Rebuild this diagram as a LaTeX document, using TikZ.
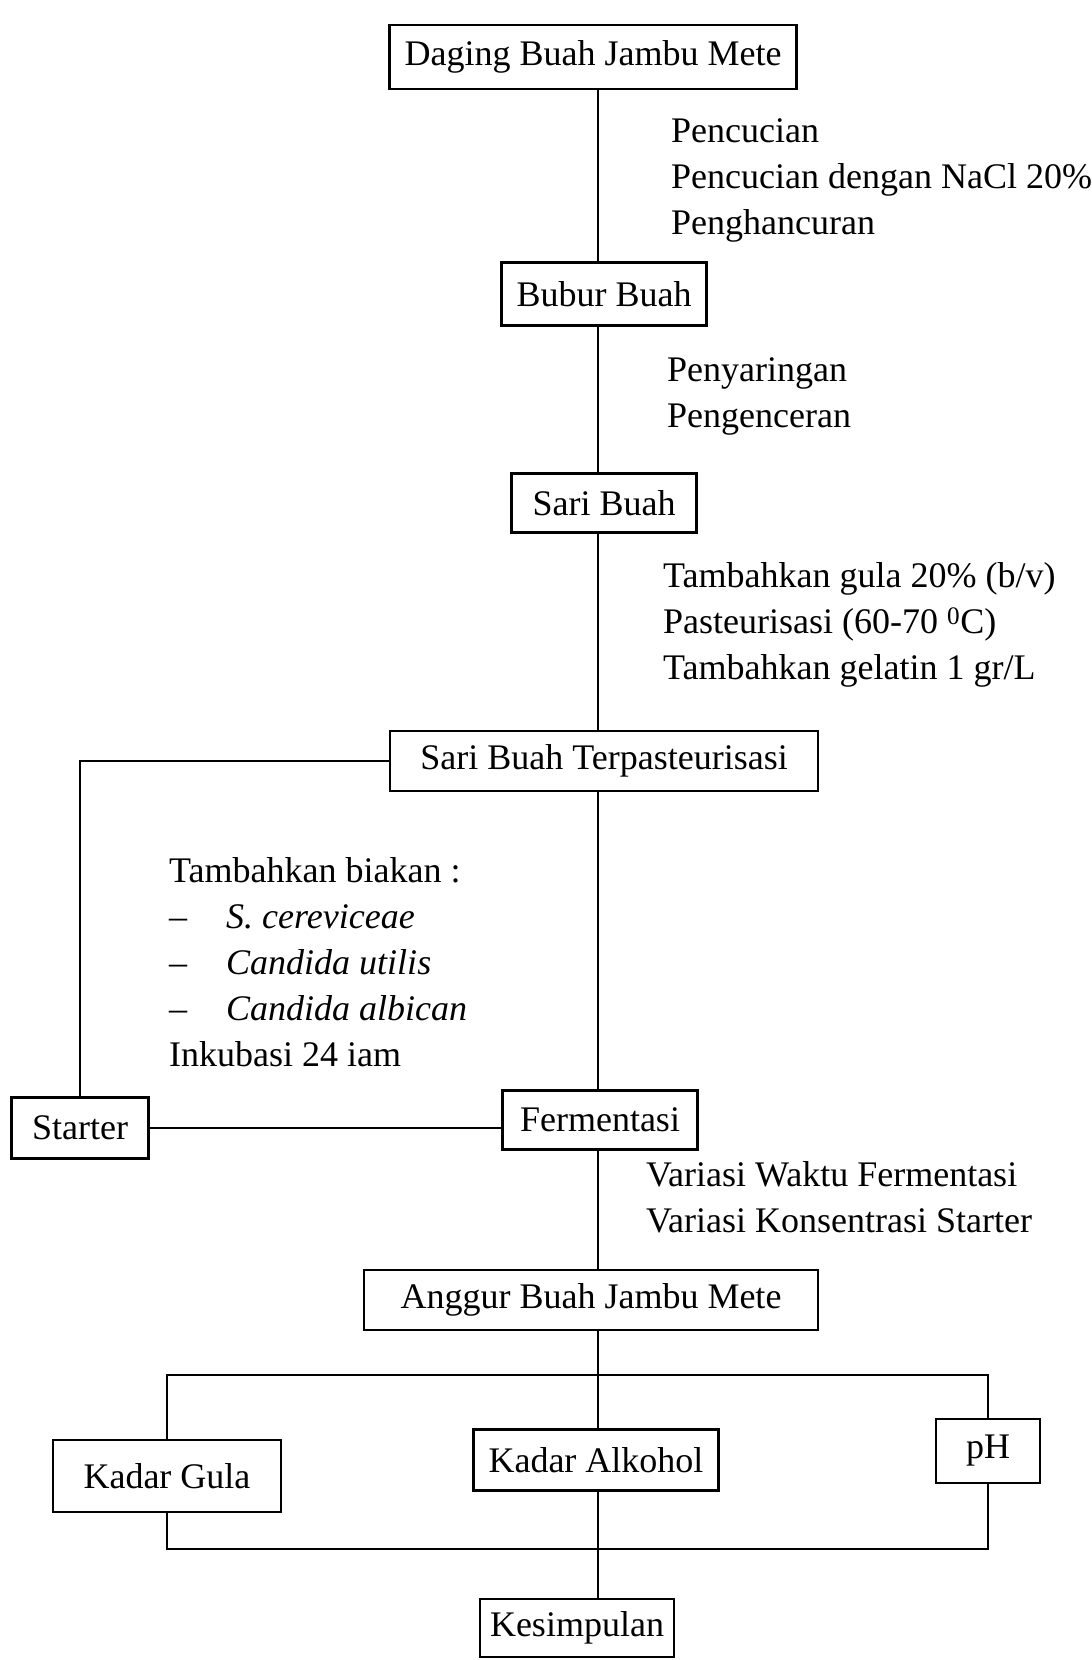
\documentclass[tikz,border=0pt]{standalone}
\usepackage{fontspec}
\setmainfont{Liberation Serif}

\tikzset{
  stage/.style={draw,line width=2.2pt,minimum height=60pt,inner xsep=10pt},
  link/.style={line width=1.6pt},
  note/.style={anchor=west,align=left,inner sep=0pt}
}

\begin{document}
\begin{tikzpicture}[x=1pt,y=-1pt,font=\fontsize{36}{46}\selectfont]
  \useasboundingbox (0,0) rectangle (1092,1660);
  \coordinate (col) at (598,0);

  % main column of stages
  \node[stage,minimum width=407pt,minimum height=64pt] (daging) at (593,57) {Daging Buah Jambu Mete};
  \node[stage,minimum width=205pt,minimum height=63pt] (bubur) at (604,294) {Bubur Buah};
  \node[stage,minimum width=185pt,minimum height=59pt] (sari) at (604,503) {Sari Buah};
  \node[stage,minimum width=428pt] (pasteur) at (604,761) {Sari Buah Terpasteurisasi};
  \node[stage,minimum width=195pt,minimum height=59pt] (ferment) at (600,1120) {Fermentasi};
  \node[stage,minimum width=137pt,minimum height=61pt] (starter) at (80,1128) {Starter};
  \node[stage,minimum width=454pt] (anggur) at (591,1300) {Anggur Buah Jambu Mete};
  \node[stage,minimum width=228pt,minimum height=72pt] (gula) at (167,1476) {Kadar Gula};
  \node[stage,minimum width=245pt,minimum height=61pt] (alkohol) at (596,1460) {Kadar Alkohol};
  \node[stage,minimum width=104pt,minimum height=64pt] (ph) at (988,1451) {pH};
  \node[stage,minimum width=193pt,minimum height=58pt] (simpul) at (577,1628) {Kesimpulan};

  % process notes
  \node[note] (cuci) at (671,180) {Pencucian\\Pencucian dengan NaCl 20\%\\Penghancuran};
  \node[note] (saring) at (667,396) {Penyaringan\\Pengenceran};
  \node[note] (gulanote) at (663,625) {Tambahkan gula 20\% (b/v)\\Pasteurisasi (60-70 \textsuperscript{0}C)\\Tambahkan gelatin 1 gr/L};
  \node[note] (biakan) at (169,962) {Tambahkan biakan :\\
    \makebox[57pt][l]{--}\textit{S. cereviceae}\\
    \makebox[57pt][l]{--}\textit{Candida utilis}\\
    \makebox[57pt][l]{--}\textit{Candida albican}\\
    Inkubasi 24 iam};
  \node[note] (variasi) at (646,1197) {Variasi Waktu Fermentasi\\Variasi Konsentrasi Starter};

  % connectors
  \coordinate (topbar) at (598,1375);
  \coordinate (botbar) at (598,1549);
  \draw[link] (daging.south -| col) -- (bubur.north -| col);
  \draw[link] (bubur.south -| col) -- (sari.north -| col);
  \draw[link] (sari.south -| col) -- (pasteur.north -| col);
  \draw[link] (pasteur.south -| col) -- (ferment.north -| col);
  \draw[link] (ferment.south -| col) -- (anggur.north -| col);
  \draw[link] (anggur.south -| col) -- (alkohol.north -| col);
  \draw[link] (alkohol.south -| col) -- (simpul.north -| col);
  \draw[link] (pasteur.west) -| (starter.north);
  \draw[link] (starter.east) -- (starter.east -| ferment.west);
  \draw[link] (gula.north) |- (topbar) -| (ph.north);
  \draw[link] (gula.south) |- (botbar) -| (ph.south);
\end{tikzpicture}
\end{document}
